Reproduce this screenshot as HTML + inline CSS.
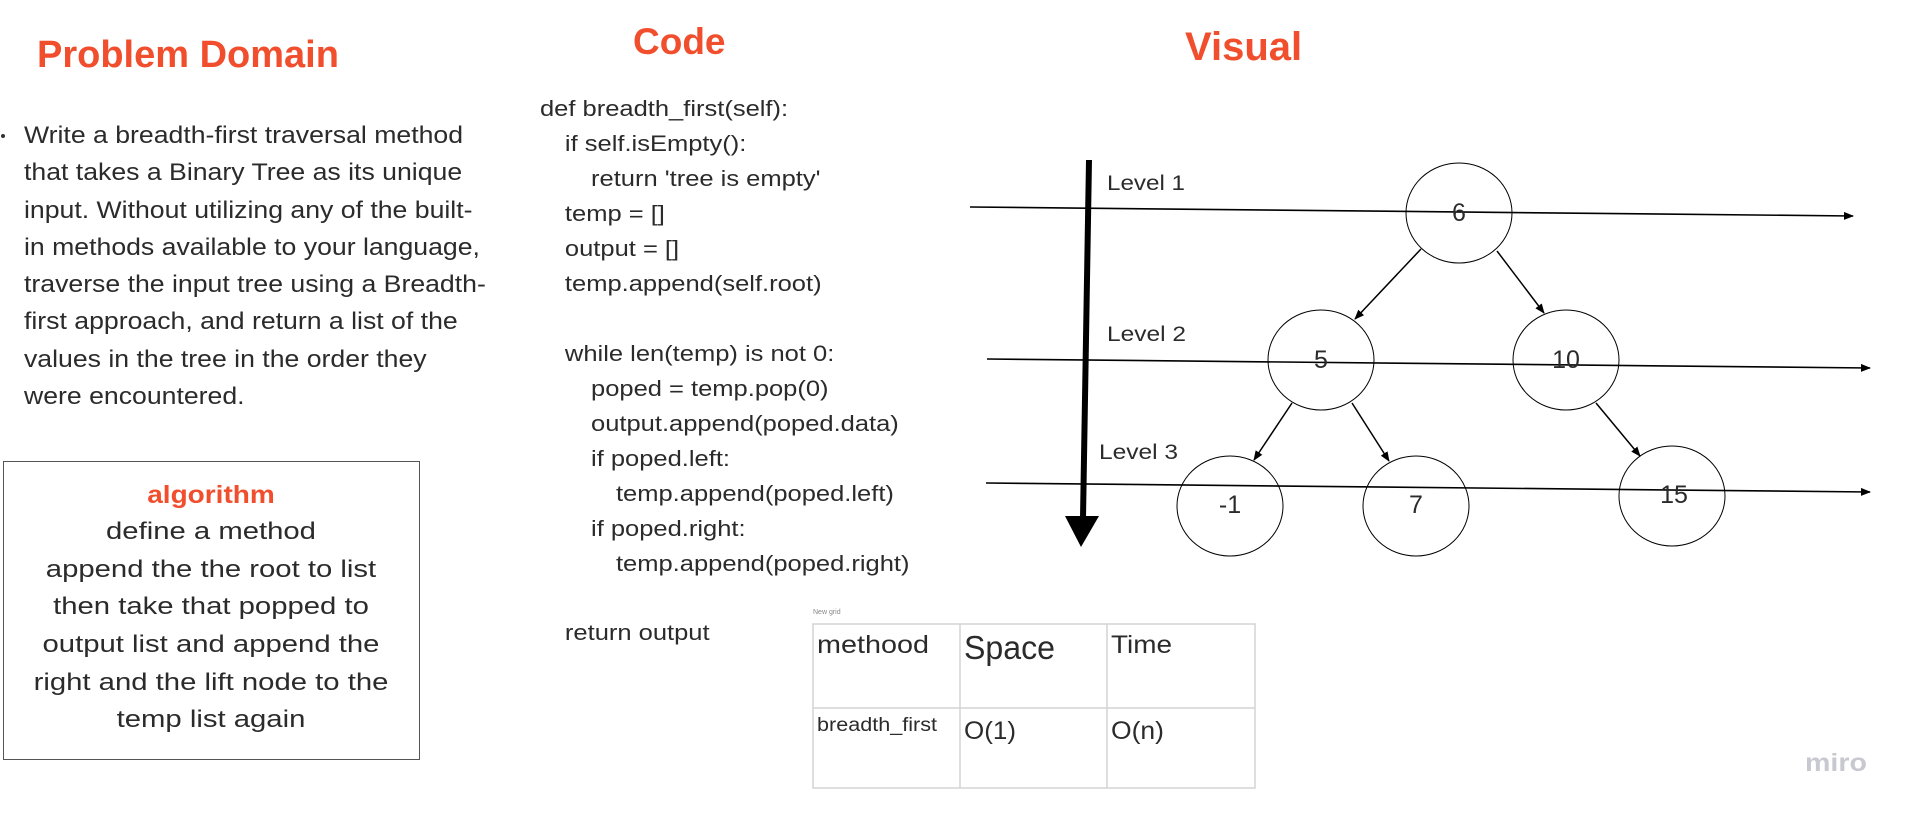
<!DOCTYPE html>
<html><head><meta charset="utf-8"><style>
html,body{margin:0;padding:0;background:#fff;}
svg{display:block;}
text{font-family:"Liberation Sans",sans-serif;fill:#2b2b2b;}
.t{fill:#f04e2d;font-weight:bold;}
</style></head><body>
<svg width="1911" height="817" viewBox="0 0 1911 817" xmlns="http://www.w3.org/2000/svg">
<defs>
<marker id="a" markerWidth="10" markerHeight="8" refX="9" refY="4" orient="auto" markerUnits="userSpaceOnUse">
<path d="M0,0 L10,4 L0,8 Z" fill="#000"/></marker>
</defs>
<text class="t" x="37" y="67" font-size="38">Problem Domain</text>
<text class="t" x="633" y="54" font-size="37">Code</text>
<text class="t" x="1185" y="60" font-size="40">Visual</text>

<circle cx="3" cy="136" r="2" fill="#333"/>
<g font-size="24" transform="translate(24,0) scale(1.11,1) translate(-24,0)">
<text x="24" y="143">Write a breadth-first traversal method</text>
<text x="24" y="180">that takes a Binary Tree as its unique</text>
<text x="24" y="218">input. Without utilizing any of the built-</text>
<text x="24" y="255">in methods available to your language,</text>
<text x="24" y="292">traverse the input tree using a Breadth-</text>
<text x="24" y="329">first approach, and return a list of the</text>
<text x="24" y="367">values in the tree in the order they</text>
<text x="24" y="404">were encountered.</text>
</g>

<rect x="3.5" y="461.5" width="416" height="298" fill="none" stroke="#555" stroke-width="1"/>
<text class="t" x="211" y="503" font-size="25" text-anchor="middle" transform="translate(211,0) scale(1.12,1) translate(-211,0)">algorithm</text>
<g font-size="24" text-anchor="middle" transform="translate(211,0) scale(1.22,1) translate(-211,0)">
<text x="211" y="539">define a method</text>
<text x="211" y="577">append the the root to list</text>
<text x="211" y="614">then take that popped to</text>
<text x="211" y="652">output list and append the</text>
<text x="211" y="690">right and the lift node to the</text>
<text x="211" y="727">temp list again</text>
</g>

<g font-size="22" transform="translate(540,0) scale(1.16,1) translate(-540,0)">
<text x="540" y="116">def breadth_first(self):</text>
<text x="561.5" y="151">if self.isEmpty():</text>
<text x="584" y="186">return 'tree is empty'</text>
<text x="561.5" y="221">temp = []</text>
<text x="561.5" y="256">output = []</text>
<text x="561.5" y="291">temp.append(self.root)</text>
<text x="561.5" y="361">while len(temp) is not 0:</text>
<text x="584" y="396">poped = temp.pop(0)</text>
<text x="584" y="431">output.append(poped.data)</text>
<text x="584" y="466">if poped.left:</text>
<text x="605.5" y="501">temp.append(poped.left)</text>
<text x="584" y="536">if poped.right:</text>
<text x="605.5" y="571">temp.append(poped.right)</text>
<text x="561.5" y="640">return output</text>
</g>

<text x="813" y="614" font-size="7" style="fill:#888">New grid</text>
<g stroke="#d4d4d4" stroke-width="1.5" fill="none">
<rect x="813" y="624" width="442" height="164"/>
<line x1="813" y1="708" x2="1255" y2="708"/>
<line x1="960" y1="624" x2="960" y2="788"/>
<line x1="1107" y1="624" x2="1107" y2="788"/>
</g>
<text x="817" y="653" font-size="25" textLength="112" lengthAdjust="spacingAndGlyphs">methood</text>
<text x="964" y="659" font-size="33" textLength="91" lengthAdjust="spacingAndGlyphs">Space</text>
<text x="1111" y="653" font-size="25" textLength="61" lengthAdjust="spacingAndGlyphs">Time</text>
<text x="817" y="731" font-size="19" textLength="120" lengthAdjust="spacingAndGlyphs">breadth_first</text>
<text x="964" y="739" font-size="25" textLength="52" lengthAdjust="spacingAndGlyphs">O(1)</text>
<text x="1111" y="739" font-size="25" textLength="53" lengthAdjust="spacingAndGlyphs">O(n)</text>

<text x="1805" y="771" font-size="25" font-weight="bold" style="fill:#c8c8d0" textLength="62" lengthAdjust="spacingAndGlyphs">miro</text>

<g stroke="#000" stroke-width="1.6" marker-end="url(#a)">
<line x1="970" y1="207" x2="1853" y2="216"/>
<line x1="987" y1="359" x2="1870" y2="368"/>
<line x1="986" y1="483" x2="1870" y2="492"/>
</g>
<line x1="1089" y1="160" x2="1083" y2="518" stroke="#000" stroke-width="6"/>
<path d="M1065,516 L1099,516 L1081,547 Z" fill="#000"/>
<g font-size="21">
<text x="1107" y="190" textLength="78" lengthAdjust="spacingAndGlyphs">Level 1</text>
<text x="1107" y="341" textLength="79" lengthAdjust="spacingAndGlyphs">Level 2</text>
<text x="1099" y="459" textLength="79" lengthAdjust="spacingAndGlyphs">Level 3</text>
</g>

<g fill="none" stroke="#000" stroke-width="1">
<ellipse cx="1459" cy="213" rx="53" ry="50"/>
<ellipse cx="1321" cy="360" rx="53" ry="50"/>
<ellipse cx="1566" cy="360" rx="53" ry="50"/>
<ellipse cx="1230" cy="506" rx="53" ry="50"/>
<ellipse cx="1416" cy="506" rx="53" ry="50"/>
<ellipse cx="1672" cy="496" rx="53" ry="50"/>
</g>
<g stroke="#000" stroke-width="1.5" marker-end="url(#a)">
<line x1="1421" y1="249" x2="1355" y2="319"/>
<line x1="1497" y1="251" x2="1544" y2="313"/>
<line x1="1292" y1="403" x2="1254" y2="460"/>
<line x1="1352" y1="403" x2="1389" y2="461"/>
<line x1="1596" y1="403" x2="1640" y2="456"/>
</g>
<g font-size="25" text-anchor="middle">
<text x="1459" y="221">6</text>
<text x="1321" y="368">5</text>
<text x="1566" y="368">10</text>
<text x="1230" y="513">-1</text>
<text x="1416" y="513">7</text>
<text x="1674" y="503">15</text>
</g>
</svg>
</body></html>
